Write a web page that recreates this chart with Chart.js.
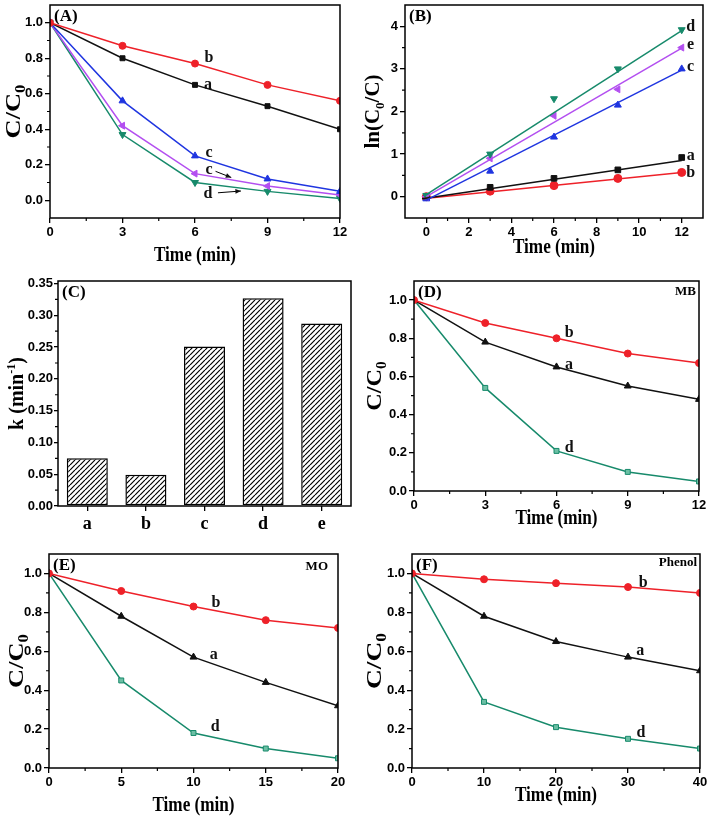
<!DOCTYPE html>
<html>
<head>
<meta charset="utf-8">
<script src="https://cdn.jsdelivr.net/npm/chart.js@4.4.1/dist/chart.umd.min.js"></script>
<style>
  html, body { margin: 0; padding: 0; background: #fff; }
  #wrap { position: relative; width: 709px; height: 816px; overflow: hidden; }
  canvas { position: absolute; }
</style>
</head>
<body>
<div id="wrap">
  <canvas id="chartA" width="355" height="270" style="left:0;top:0"></canvas>
  <canvas id="chartB" width="354" height="270" style="left:355px;top:0"></canvas>
  <canvas id="chartC" width="355" height="270" style="left:0;top:270px"></canvas>
  <canvas id="chartD" width="354" height="270" style="left:355px;top:270px"></canvas>
  <canvas id="chartE" width="355" height="276" style="left:0;top:540px"></canvas>
  <canvas id="chartF" width="354" height="276" style="left:355px;top:540px"></canvas>
</div>
<script>
// (A) C/C0 vs time, samples a-e
const timeA = [0, 3, 6, 9, 12];
const ratioA_a = [1.00, 0.80, 0.65, 0.53, 0.40];
const ratioA_b = [1.00, 0.87, 0.77, 0.65, 0.56];
const ratioA_c = [1.00, 0.56, 0.25, 0.12, 0.05];
const ratioA_e = [1.00, 0.42, 0.15, 0.08, 0.03];
const ratioA_d = [1.00, 0.37, 0.10, 0.05, 0.01];

// (B) ln(C0/C) vs time, points + fitted lines
const timeB = [0, 3, 6, 9, 12];
const lnB_a = [0.00, 0.22, 0.43, 0.63, 0.92];
const lnB_b = [0.00, 0.13, 0.26, 0.43, 0.57];
const lnB_c = [-0.05, 0.60, 1.40, 2.15, 3.00];
const lnB_d = [0.03, 1.00, 2.30, 3.00, 3.92];
const lnB_e = [0.00, 0.90, 1.90, 2.52, 3.50];
// fit line end points
const fitB_x = [0, 12];
const fitB_xab = [-0.2, 12];
const fitB_a = [-0.05, 0.85];
const fitB_b = [-0.05, 0.57];
const fitB_c = [-0.08, 2.97];
const fitB_d = [0.05, 3.90];
const fitB_e = [0.00, 3.49];

// (C) rate constants
const catC = ['a', 'b', 'c', 'd', 'e'];
const kC = [0.075, 0.049, 0.251, 0.327, 0.287];

// (D) MB
const timeD = [0, 3, 6, 9, 12];
const ratioD_a = [1.00, 0.78, 0.65, 0.55, 0.48];
const ratioD_b = [1.00, 0.88, 0.80, 0.72, 0.67];
const ratioD_d = [1.00, 0.54, 0.21, 0.10, 0.05];

// (E) MO
const timeE = [0, 5, 10, 15, 20];
const ratioE_a = [1.00, 0.78, 0.57, 0.44, 0.32];
const ratioE_b = [1.00, 0.91, 0.83, 0.76, 0.72];
const ratioE_d = [1.00, 0.45, 0.18, 0.10, 0.05];

// (F) Phenol
const timeF = [0, 10, 20, 30, 40];
const ratioF_a = [1.00, 0.78, 0.65, 0.57, 0.50];
const ratioF_b = [1.00, 0.97, 0.95, 0.93, 0.90];
const ratioF_d = [1.00, 0.34, 0.21, 0.15, 0.10];

// tick labels
const ticksX12 = [0, 3, 6, 9, 12];
const minorX12 = [1.5, 4.5, 7.5, 10.5];
const ticksXB = [0, 2, 4, 6, 8, 10, 12];
const minorXB = [1, 3, 5, 7, 9, 11];
const ticksX20 = [0, 5, 10, 15, 20];
const minorX20 = [2.5, 7.5, 12.5, 17.5];
const ticksX40 = [0, 10, 20, 30, 40];
const minorX40 = [5, 15, 25, 35];
const ticksRatio = [0, 0.2, 0.4, 0.6, 0.8, 1.0];
const minorRatio = [0.1, 0.3, 0.5, 0.7, 0.9];
const ticksLn = [0, 1, 2, 3, 4];
const minorLn = [0.5, 1.5, 2.5, 3.5];
const ticksK = [0, 0.05, 0.10, 0.15, 0.20, 0.25, 0.30, 0.35];
const minorK = [0.025, 0.075, 0.125, 0.175, 0.225, 0.275, 0.325];

const RED = '#ee2129', BLUE = '#1f35e0', PURPLE = '#b34ff0', GREEN = '#178a6b', BLACK = '#111';
const SERIF = '"Liberation Serif", "Times New Roman", serif';
const SANS = '"Liberation Sans", Arial, sans-serif';
const TICK_FONT = { family: SANS, weight: 'bold', size: 13 };

function pts(xs, ys) {
    return xs.map((x, i) => ({ x: x, y: ys[i] }));
}

function series(xs, ys, color, style, extra) {
    return Object.assign({
        data: pts(xs, ys),
        borderColor: color,
        backgroundColor: color,
        borderWidth: 1.5,
        pointStyle: style,
        pointRadius: 3.5,
        pointBorderWidth: 1,
        tension: 0
    }, extra || {});
}

function fixSize(size, horizontal) {
    return function (s) {
        if (horizontal) s.height = size; else s.width = size;
        s.paddingTop = s.paddingBottom = s.paddingLeft = s.paddingRight = 0;
    };
}

function linAxis(min, max, ticks, decimals, size, horizontal) {
    return {
        type: 'linear',
        min: min,
        max: max,
        afterBuildTicks: function (s) { s.ticks = ticks.map(v => ({ value: v })); },
        afterFit: fixSize(size, horizontal),
        grid: { drawOnChartArea: false, color: '#000', lineWidth: 1.3, tickLength: 5 },
        border: { display: false },
        ticks: {
            color: '#000', font: TICK_FONT, padding: 2, maxRotation: 0, autoSkip: false,
            callback: v => Number(v).toFixed(decimals)
        }
    };
}

// frame, minor ticks, titles and in-plot notes
const deco = {
    id: 'deco',
    afterDraw(chart, args, o) {
        const ctx = chart.ctx, a = chart.chartArea;
        const xs = chart.scales.x, ys = chart.scales.y;
        ctx.save();
        ctx.strokeStyle = '#000';
        ctx.fillStyle = '#000';
        ctx.lineWidth = 1.2;
        ctx.beginPath();
        (o.minorX || []).forEach(v => {
            const px = xs.getPixelForValue(v);
            ctx.moveTo(px, a.bottom); ctx.lineTo(px, a.bottom + 3);
        });
        (o.minorY || []).forEach(v => {
            const py = ys.getPixelForValue(v);
            ctx.moveTo(a.left - 3, py); ctx.lineTo(a.left, py);
        });
        ctx.stroke();

        ctx.lineWidth = 1.5;
        ctx.strokeRect(a.left, a.top, a.right - a.left, a.bottom - a.top);

        ctx.textBaseline = 'middle';
        ctx.textAlign = 'left';
        ctx.font = 'bold 17px ' + SERIF;
        ctx.fillText(o.panel, a.left + 4, a.top + 12);

        if (o.corner) {
            ctx.font = 'bold 13px ' + SERIF;
            ctx.textAlign = 'right';
            ctx.fillText(o.corner.t, a.right - o.corner.dx, a.top + o.corner.dy);
        }

        ctx.font = 'bold 16px ' + SERIF;
        ctx.textAlign = 'center';
        ctx.fillStyle = BLACK;
        (o.notes || []).forEach(n => {
            ctx.fillText(n.t, xs.getPixelForValue(n.x), ys.getPixelForValue(n.y));
        });

        (o.arrows || []).forEach(r => {
            const x1 = xs.getPixelForValue(r.x1), y1 = ys.getPixelForValue(r.y1);
            const x2 = xs.getPixelForValue(r.x2), y2 = ys.getPixelForValue(r.y2);
            const ang = Math.atan2(y2 - y1, x2 - x1);
            ctx.lineWidth = 1;
            ctx.beginPath(); ctx.moveTo(x1, y1); ctx.lineTo(x2, y2); ctx.stroke();
            ctx.beginPath();
            ctx.moveTo(x2, y2);
            ctx.lineTo(x2 - 6 * Math.cos(ang - 0.4), y2 - 6 * Math.sin(ang - 0.4));
            ctx.lineTo(x2 - 6 * Math.cos(ang + 0.4), y2 - 6 * Math.sin(ang + 0.4));
            ctx.closePath(); ctx.fill();
        });

        ctx.fillStyle = '#000';
        if (o.xTitle) {
            ctx.save();
            ctx.font = 'bold 22px ' + SERIF;
            ctx.textAlign = 'center';
            ctx.translate((a.left + a.right) / 2, o.xTitleY);
            ctx.scale(0.78, 1);
            ctx.fillText(o.xTitle, 0, 0);
            ctx.restore();
        }

        if (o.yTitle) {
            // yTitleX is the screen x of the text baseline
            const big = o.yFont || 21, small = Math.round(big * 0.62);
            ctx.save();
            ctx.translate(o.yTitleX, (a.top + a.bottom) / 2);
            ctx.rotate(-Math.PI / 2);
            ctx.scale(o.yStretch || 1, 1);
            ctx.textAlign = 'left';
            ctx.textBaseline = 'alphabetic';
            let total = 0;
            o.yTitle.forEach(seg => {
                ctx.font = 'bold ' + (seg.sub || seg.sup ? small : big) + 'px ' + SERIF;
                total += ctx.measureText(seg.t).width;
            });
            let x = -total / 2;
            o.yTitle.forEach(seg => {
                ctx.font = 'bold ' + (seg.sub || seg.sup ? small : big) + 'px ' + SERIF;
                const dy = seg.sub ? big * 0.22 : (seg.sup ? -big * 0.42 : 0);
                ctx.fillText(seg.t, x, dy);
                x += ctx.measureText(seg.t).width;
            });
            ctx.restore();
        }
        ctx.restore();
    }
};

function lineChart(id, box, datasets, xAxis, yAxis, decoOpts) {
    const canvas = document.getElementById(id);
    return new Chart(canvas, {
        type: 'line',
        data: { datasets: datasets },
        options: {
            responsive: false,
            animation: false,
            layout: { padding: { left: 0, top: box.T, right: canvas.width - box.R, bottom: 0 } },
            scales: { x: xAxis, y: yAxis },
            plugins: { legend: { display: false }, tooltip: { enabled: false }, deco: decoOpts }
        },
        plugins: [deco]
    });
}

const ratioTitle = [{ t: 'C/C' }, { t: '0', sub: true }];

// (A)
lineChart('chartA', { T: 4, R: 340 }, [
    series(timeA, ratioA_b, RED, 'circle'),
    series(timeA, ratioA_a, BLACK, 'rect'),
    series(timeA, ratioA_c, BLUE, 'triangle', { pointRadius: 4 }),
    series(timeA, ratioA_e, PURPLE, 'triangle', { pointRadius: 4, pointRotation: 270 }),
    series(timeA, ratioA_d, GREEN, 'triangle', { pointRadius: 4, pointRotation: 180 })
], linAxis(0, 12, ticksX12, 0, 270 - 218, true),
   linAxis(-0.1, 1.1, ticksRatio, 1, 50, false), {
    panel: '(A)', minorX: minorX12, minorY: minorRatio,
    xTitle: 'Time (min)', xTitleY: 255, yTitle: ratioTitle, yTitleX: 20, yFont: 22, yStretch: 1.2,
    notes: [
        { t: 'b', x: 6.58, y: 0.80 }, { t: 'a', x: 6.54, y: 0.65 },
        { t: 'c', x: 6.58, y: 0.265 }, { t: 'c', x: 6.58, y: 0.17 }, { t: 'd', x: 6.54, y: 0.035 }
    ],
    arrows: [
        { x1: 6.85, y1: 0.163, x2: 7.5, y2: 0.128 },
        { x1: 6.95, y1: 0.042, x2: 7.9, y2: 0.052 }
    ]
});

// (B)
const fitStyle = { pointRadius: 0, showLine: true };
const dotStyle = { showLine: false, pointRadius: 4 };
lineChart('chartB', { T: 4, R: 348 }, [
    series(fitB_x, fitB_d, GREEN, 'circle', fitStyle),
    series(fitB_x, fitB_e, PURPLE, 'circle', fitStyle),
    series(fitB_x, fitB_c, BLUE, 'circle', fitStyle),
    series(fitB_xab, fitB_a, BLACK, 'circle', fitStyle),
    series(fitB_xab, fitB_b, RED, 'circle', fitStyle),
    series(timeB, lnB_d, GREEN, 'triangle', Object.assign({ pointRotation: 180 }, dotStyle)),
    series(timeB, lnB_e, PURPLE, 'triangle', Object.assign({ pointRotation: 270 }, dotStyle)),
    series(timeB, lnB_c, BLUE, 'triangle', dotStyle),
    series(timeB, lnB_a, BLACK, 'rect', dotStyle),
    series(timeB, lnB_b, RED, 'circle', dotStyle)
], linAxis(-1, 13, ticksXB, 0, 270 - 218, true),
   linAxis(-0.5, 4.5, ticksLn, 0, 50, false), {
    panel: '(B)', minorX: minorXB, minorY: minorLn,
    xTitle: 'Time (min)', xTitleY: 247,
    yTitle: [{ t: 'ln(C' }, { t: '0', sub: true }, { t: '/C)' }], yTitleX: 24, yFont: 21,
    notes: [
        { t: 'd', x: 12.42, y: 3.98 }, { t: 'e', x: 12.42, y: 3.56 }, { t: 'c', x: 12.42, y: 3.05 },
        { t: 'a', x: 12.42, y: 0.95 }, { t: 'b', x: 12.42, y: 0.56 }
    ]
});

// (C) bar chart with hatched fill
(function () {
    const canvas = document.getElementById('chartC');
    const ctx = canvas.getContext('2d');
    const s = 5, tile = document.createElement('canvas');
    tile.width = s; tile.height = s;
    const g = tile.getContext('2d');
    g.fillStyle = '#fff'; g.fillRect(0, 0, s, s);
    g.strokeStyle = '#000'; g.lineWidth = 1.2;
    g.beginPath();
    for (let k = -1; k <= 1; k++) { g.moveTo(k * s, s); g.lineTo(k * s + s, 0); }
    g.stroke();
    const hatch = ctx.createPattern(tile, 'repeat');

    const yAxis = linAxis(0, 0.354, ticksK, 2, 58, false);
    yAxis.grid.tickLength = 4;
    yAxis.ticks.padding = 1;
    new Chart(canvas, {
        type: 'bar',
        data: {
            labels: catC,
            datasets: [{
                data: kC, backgroundColor: hatch, borderColor: '#000', borderWidth: 1.5,
                borderSkipped: false, categoryPercentage: 1, barPercentage: 0.7
            }]
        },
        options: {
            responsive: false,
            animation: false,
            layout: { padding: { left: 0, top: 11, right: canvas.width - 351, bottom: 0 } },
            scales: {
                x: {
                    type: 'category', offset: true,
                    afterFit: fixSize(270 - 236, true),
                    grid: { drawOnChartArea: false, offset: false, color: '#000', lineWidth: 1.3, tickLength: 5 },
                    border: { display: false },
                    ticks: { color: '#000', font: { family: SERIF, weight: 'bold', size: 18 }, padding: 3, maxRotation: 0 }
                },
                y: yAxis
            },
            plugins: {
                legend: { display: false }, tooltip: { enabled: false },
                deco: {
                    panel: '(C)', minorY: minorK,
                    yTitle: [{ t: 'k (min' }, { t: '-1', sup: true }, { t: ')' }], yTitleX: 23, yFont: 20
                }
            }
        },
        plugins: [deco]
    });
})();

// (D) MB
lineChart('chartD', { T: 11, R: 344 }, [
    series(timeD, ratioD_b, RED, 'circle'),
    series(timeD, ratioD_a, BLACK, 'triangle', { pointRadius: 4 }),
    series(timeD, ratioD_d, GREEN, 'rect', { backgroundColor: '#6cbfa4' })
], linAxis(0, 12, ticksX12, 0, 270 - 221, true),
   linAxis(0, 1.1, ticksRatio, 1, 59, false), {
    panel: '(D)', minorX: minorX12, minorY: minorRatio, corner: { t: 'MB', dx: 3, dy: 11 },
    xTitle: 'Time (min)', xTitleY: 248, yTitle: ratioTitle, yTitleX: 26, yFont: 22, yStretch: 1.1,
    notes: [{ t: 'b', x: 6.53, y: 0.83 }, { t: 'a', x: 6.53, y: 0.66 }, { t: 'd', x: 6.53, y: 0.225 }]
});

// (E) MO
lineChart('chartE', { T: 14, R: 338 }, [
    series(timeE, ratioE_b, RED, 'circle'),
    series(timeE, ratioE_a, BLACK, 'triangle', { pointRadius: 4 }),
    series(timeE, ratioE_d, GREEN, 'rect', { backgroundColor: '#6cbfa4' })
], linAxis(0, 20, ticksX20, 0, 276 - 228, true),
   linAxis(0, 1.1, ticksRatio, 1, 49, false), {
    panel: '(E)', minorX: minorX20, minorY: minorRatio, corner: { t: 'MO', dx: 10, dy: 13 },
    xTitle: 'Time (min)', xTitleY: 265, yTitle: ratioTitle, yTitleX: 23, yFont: 22, yStretch: 1.2,
    notes: [{ t: 'b', x: 11.56, y: 0.85 }, { t: 'a', x: 11.4, y: 0.58 }, { t: 'd', x: 11.5, y: 0.21 }]
});

// (F) Phenol
lineChart('chartF', { T: 14, R: 345 }, [
    series(timeF, ratioF_b, RED, 'circle'),
    series(timeF, ratioF_a, BLACK, 'triangle', { pointRadius: 4 }),
    series(timeF, ratioF_d, GREEN, 'rect', { backgroundColor: '#6cbfa4' })
], linAxis(0, 40, ticksX40, 0, 276 - 228, true),
   linAxis(0, 1.1, ticksRatio, 1, 57, false), {
    panel: '(F)', minorX: minorX40, minorY: minorRatio, corner: { t: 'Phenol', dx: 3, dy: 9 },
    xTitle: 'Time (min)', xTitleY: 255, yTitle: ratioTitle, yTitleX: 26, yFont: 22, yStretch: 1.25,
    notes: [{ t: 'b', x: 32.1, y: 0.95 }, { t: 'a', x: 31.7, y: 0.60 }, { t: 'd', x: 31.8, y: 0.18 }]
});
</script>
</body>
</html>
